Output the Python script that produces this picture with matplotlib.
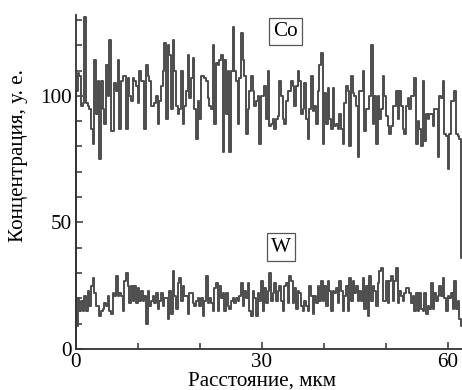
import numpy as np
import matplotlib
matplotlib.use("Agg")
import matplotlib.pyplot as plt
from matplotlib.ticker import MultipleLocator

plt.rcParams['font.family'] = ['Liberation Serif', 'DejaVu Serif']

# scan step along the line, um
step_um = 0.269

# Co profile (starts from the zero level at the sample edge)
co = [0,
      102, 109, 108, 96, 97, 131, 97, 96, 95, 87, 81, 114, 93, 106, 75, 106,
      95, 89, 112, 100, 122, 86, 86, 105, 102, 114, 87, 106, 108, 108, 87,
      107, 100, 98, 107, 106, 104, 97, 110, 106, 106, 87, 112, 108, 106, 96,
      96, 97, 100, 89, 98, 104, 110, 121,
      91, 120, 116, 95, 122, 110, 96, 93, 95, 110, 89, 96, 102, 116, 99, 107,
      115, 95, 83, 98, 91, 108, 108, 107, 106, 99, 96, 95, 120, 89, 113, 112,
      114, 116, 78, 114, 93, 110, 78, 110, 127, 110, 106, 89, 107, 125, 114,
      108, 85, 95, 102, 108, 102, 96, 98, 100,
      81, 100, 100, 104, 91, 110, 88, 89, 91, 87, 91, 92, 106, 100, 91, 89,
      98, 102, 102, 106, 104, 96, 104, 110, 106, 93, 95, 105, 91, 83, 95, 108,
      94, 96, 89, 102, 112, 117, 81, 101, 89, 103, 91, 87, 103, 88, 89, 87,
      93, 87, 81, 97, 104, 102, 80, 108, 101,
      100, 96, 76, 102, 102, 110, 86, 95, 95, 100, 120, 89, 100, 81, 100, 91,
      95, 108, 100, 92, 88, 85, 88, 96, 96, 102, 91, 102, 96, 87, 85, 96, 99,
      95, 100, 100, 107, 81, 90, 87, 80, 106, 82, 93, 91, 93, 93, 88, 95, 95,
      76, 100, 99, 106, 85, 84, 71, 85, 98, 98, 102, 85, 84, 83,
      36]

# W profile
w = [1,
     9, 20, 15, 19, 15, 21, 15, 23, 17, 25, 28, 22, 17, 17, 13, 15, 16, 18,
     17, 21, 15, 14, 22, 21, 29, 21, 22, 21, 15, 27, 30, 25, 18, 25, 19, 25,
     18, 24, 19, 23, 19, 21, 10, 23, 17, 19, 21, 18, 22, 16, 19, 22, 17, 20,
     20, 12, 23, 14, 31, 21, 16, 26, 28, 19, 25, 21, 21, 14, 22, 22, 18, 17,
     19, 20, 17, 20, 13, 19, 29, 18, 20, 18, 15, 24, 26, 15, 25, 20, 22, 15,
     22, 17, 16, 19, 20, 18, 20, 19, 21, 26, 17, 23, 20, 26, 15, 13, 23, 20,
     13, 22,
     19, 27, 15, 24, 18, 23, 30, 19, 22, 26, 19, 23, 25, 19, 15, 25, 26, 18,
     29, 27, 18, 24, 16, 23, 22, 17, 15, 19, 17, 15, 25, 21, 14, 21, 18, 25,
     19, 27, 19, 25, 17, 27, 23, 15, 23, 22, 24, 18, 27, 23, 15, 21, 25, 15,
     28, 19, 27,
     22, 25, 19, 23, 19, 28, 16, 25, 13, 29, 19, 25, 23, 17, 26, 31, 32, 19,
     19, 27, 18, 27, 29, 19, 27, 32, 18, 23, 21, 19, 22, 24, 24, 22, 18, 21,
     15, 22, 15, 22, 16, 15, 22, 14, 17, 16, 26, 16, 22, 19, 21, 25, 21, 28,
     20, 15, 21, 20, 22, 16, 27, 16, 19, 12,
     9]

x_co = np.arange(len(co)) * step_um
x_w = np.arange(len(w)) * step_um

fig = plt.figure(figsize=(4.62, 3.9), dpi=100)
ax = fig.add_axes([0.1645, 0.105, 0.8355, 0.857])

line_kw = dict(drawstyle='steps-pre', color='#4d4d4d', lw=1.4, clip_on=False)
ax.plot(x_co, co, **line_kw)
ax.plot(x_w, w, **line_kw)

ax.set_xlim(0, 62.3)
ax.set_ylim(0, 132)

for side in ('top', 'right'):
    ax.spines[side].set_visible(False)
for side in ('left', 'bottom'):
    ax.spines[side].set_linewidth(1.3)
    ax.spines[side].set_color('#333333')

fs = 15.2
ax.xaxis.set_major_locator(MultipleLocator(30))
ax.xaxis.set_minor_locator(MultipleLocator(10))
ax.yaxis.set_major_locator(MultipleLocator(50))
ax.yaxis.set_minor_locator(MultipleLocator(10))
ax.tick_params(which='both', direction='in', color='#333333', width=1.1,
               labelsize=fs)
ax.tick_params(which='major', length=5)
ax.tick_params(which='minor', length=4)
ax.tick_params(axis='y', pad=3)
ax.tick_params(axis='x', pad=2.5)

ax.set_xlabel('Расстояние, мкм', fontsize=fs)
ax.set_ylabel('Концентрация, у. е.', fontsize=fs)
ax.xaxis.set_label_coords(0.482, -0.066)
ax.yaxis.set_label_coords(-0.148, 0.58)
ax.xaxis.label.set_va('top')
ax.yaxis.label.set_va('center')

box = dict(boxstyle='square,pad=0.2', fc='white', ec='#555555', lw=0.9)
ax.text(33.8, 125.5, 'Co', fontsize=fs, ha='center', va='center', bbox=box)
ax.text(33.1, 40.3, 'W', fontsize=fs, ha='center', va='center', bbox=box)

fig.savefig('out.png', dpi=100)
